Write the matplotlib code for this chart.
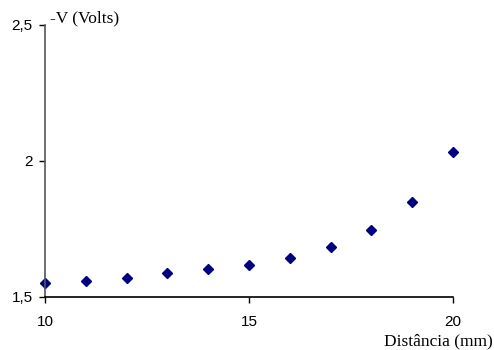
import numpy as np
import matplotlib
matplotlib.use("Agg")
import matplotlib.pyplot as plt

#==============================
#            DATA
#==============================
distancia = [10, 11, 12, 13, 14, 15, 16, 17, 18, 19, 20]
tensao = [1.549, 1.557, 1.569, 1.587, 1.600, 1.617, 1.643, 1.682, 1.744, 1.847, 2.033]
xticks = [10, 15, 20]
xticklabels = ["10", "15", "20"]
yticks = [1.5, 2.0, 2.5]
yticklabels = ["1,5", "2", "2,5"]

#==============================
#            PLOT
#==============================
fig = plt.figure(figsize=(4.94, 3.5), dpi=100)
ax = fig.add_axes([45/494, 1-296.5/350, (453-45)/494, (296.5-25)/350])
ax.plot(distancia, tensao, 'D', color='#000080', markersize=5, clip_on=False)

ax.set_xlim(10, 20)
ax.set_ylim(1.5, 2.5)
ax.set_xticks(xticks)
ax.set_xticklabels(xticklabels, family='Liberation Sans', fontsize=11)
ax.set_yticks(yticks)
ax.set_yticklabels(yticklabels, family='Liberation Sans', fontsize=11)
ax.tick_params(direction='out', length=4, width=1)
ax.tick_params(axis='x', pad=9)
ax.tick_params(axis='y', pad=5)

ax.spines['top'].set_visible(False)
ax.spines['right'].set_visible(False)
ax.spines['left'].set_color('#555555')
ax.spines['left'].set_linewidth(1.2)
ax.spines['bottom'].set_color('black')
ax.spines['bottom'].set_linewidth(1.2)

fig.text(50/494, 1-18/350, "-V (Volts)", family='Liberation Serif', fontsize=12.5,
         ha='left', va='center')
fig.text(493/494, 1-341/350, "Distância (mm)", family='Liberation Serif', fontsize=12.5,
         ha='right', va='center')

fig.savefig("out.png", dpi=100)
